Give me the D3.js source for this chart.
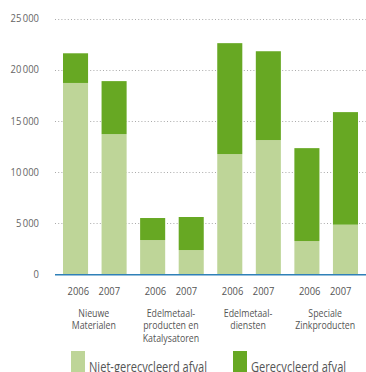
<!DOCTYPE html>
<html><head><meta charset="utf-8">
<script src="https://cdn.jsdelivr.net/npm/d3@7"></script>
<style>
body{margin:0;background:#fff;}
text{font-family:"Open Sans",sans-serif;}
</style></head>
<body><svg id="c" width="366" height="372"></svg>
<script>
const categories = [["Nieuwe","Materialen"],["Edelmetaal-","producten en","Katalysatoren"],["Edelmetaal-","diensten"],["Speciale","Zinkproducten"]];
const years = ["2006","2007"];
const nietGerecycleerd = [18700, 13700, 3350, 2370, 11750, 13120, 3250, 4850];
const gerecycleerd = [2900, 5180, 2150, 3230, 10840, 8680, 9080, 11000];
const yTicks = [0, 5000, 10000, 15000, 20000, 25000];
const seriesNames = ["Niet-gerecycleerd afval", "Gerecycleerd afval"];
const colors = ["#bed598", "#67a823"];

const svg = d3.select("#c");
const ids = d3.range(nietGerecycleerd.length);
const x = d3.scaleBand().domain(ids).range([56.25, 364.75]).paddingInner(0.35).paddingOuter(0.175);
const y = d3.scaleLinear().domain([0, 25000]).range([274.3, 18.5]);
const loc = d3.formatLocale({decimal:",", thousands:"\u2009", grouping:[3], currency:["",""]});
const fmt = loc.format(",d");

function factorFor(str, size, target) {
  const t = svg.append("text").style("font-size", size + "px").text(str);
  const w = t.node().getComputedTextLength();
  t.remove();
  return target / w;
}
// condensed label: a group scaled horizontally around the anchor point
function label(px, py, str, size, factor, anchor, fill) {
  return svg.append("g").attr("transform", `translate(${px},${py}) scale(${factor},1)`)
    .append("text").attr("text-anchor", anchor).attr("fill", fill)
    .style("font-size", size + "px").text(str);
}

// gridlines
svg.append("g").selectAll("line").data(yTicks.filter(d => d > 0)).join("line")
  .attr("x1", 55).attr("x2", 366)
  .attr("y1", d => Math.round(y(d)) + 0.5).attr("y2", d => Math.round(y(d)) + 0.5)
  .attr("stroke", "#aaa").attr("stroke-width", 1).attr("stroke-dasharray", "1,2.2");

// y labels (axis ticks, condensed)
const fY = factorFor("25\u2009000", 11.5, 28.5);
const yAxis = d3.axisLeft(y).tickValues(yTicks).tickFormat(fmt).tickSize(0).tickPadding(0);
const ya = svg.append("g").attr("transform", "translate(39,0)").call(yAxis);
ya.select(".domain").remove();
ya.selectAll(".tick").attr("transform", d => `translate(0,${y(d)}) scale(${fY},1)`);
ya.selectAll("text").attr("fill", "#666").style("font-size", "11.5px")
  .style("font-family", '"Open Sans",sans-serif');

// bars
const stack = ids.map(i => ({i, a: nietGerecycleerd[i], b: gerecycleerd[i]}));
svg.append("g").selectAll("rect").data(stack).join("rect")
  .attr("x", d => x(d.i)).attr("width", x.bandwidth())
  .attr("y", d => y(d.a)).attr("height", d => y(0) - y(d.a)).attr("fill", colors[0]);
svg.append("g").selectAll("rect").data(stack).join("rect")
  .attr("x", d => x(d.i)).attr("width", x.bandwidth())
  .attr("y", d => y(d.a + d.b)).attr("height", d => y(d.a) - y(d.a + d.b)).attr("fill", colors[1]);

// baseline axis
svg.append("line").attr("x1", 55).attr("x2", 366).attr("y1", y(0) + 0.5).attr("y2", y(0) + 0.5)
  .attr("stroke", "#2f80b8").attr("stroke-width", 1.5);

// year labels and category labels
const fYear = factorFor("2006", 11.5, 21.5);
const fCat = factorFor("Katalysatoren", 10.8, 56.5);
categories.forEach((cat, g) => {
  const mid = (x(2*g) + x(2*g+1) + x.bandwidth()) / 2 - 1;
  years.forEach((yr, k) => {
    label(mid + (k === 0 ? -15.5 : 15.5), 294.5, yr, 11.5, fYear, "middle", "#555");
  });
  cat.forEach((line, j) => {
    label(mid, 316.5 + j * 12.7, line, 10.8, fCat, "middle", "#555");
  });
});

// legend
const legX = [71, 233];
const fLeg = factorFor(seriesNames[0], 15, 118);
seriesNames.forEach((name, k) => {
  svg.append("rect").attr("x", legX[k]).attr("y", 351).attr("width", 14).attr("height", 22).attr("fill", colors[k]);
  label(legX[k] + 18, 372, name, 15, fLeg, "start", "#555");
});
</script></body></html>
